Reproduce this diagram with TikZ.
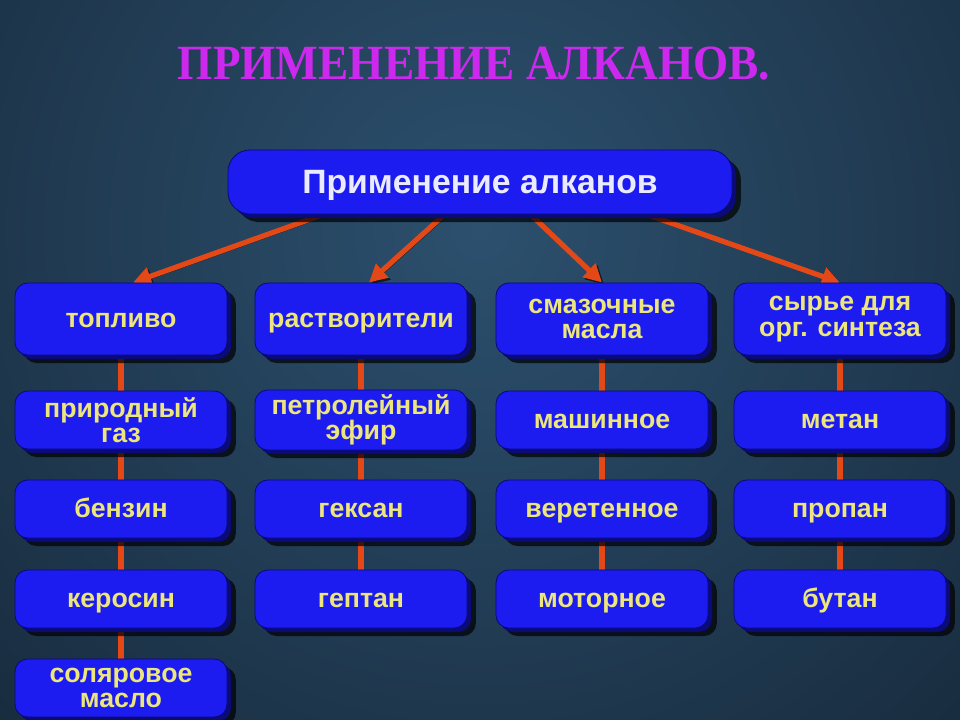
\documentclass[tikz,border=0pt]{standalone}
\usepackage{fontspec}
\setmainfont{Liberation Sans}
\newfontfamily\titlefont{Liberation Serif}
\usetikzlibrary{shadows, calc, shapes, positioning, arrows.meta}
\definecolor{AlkBlue}{RGB}{28, 28, 240}
\definecolor{AlkEdge}{RGB}{10, 10, 120}
\definecolor{AlkOrange}{RGB}{228, 72, 22}
\definecolor{AlkYellow}{RGB}{236, 230, 125}
\definecolor{AlkTitle}{RGB}{204, 40, 238}
\definecolor{BgInner}{RGB}{44, 80, 110}
\definecolor{BgOuter}{RGB}{10, 18, 28}

\pgfdeclarelayer{bg}
\pgfdeclarelayer{links}
\pgfsetlayers{bg, links, main}

\tikzset{
    alkbox/.style={rectangle, rounded corners=0.32cm, fill=AlkBlue, draw=AlkEdge,
        line width=0.6pt, minimum width=5.3cm, minimum height=1.45cm, align=center,
        text=AlkYellow, font=\bfseries\fontsize{19}{18}\selectfont,
        general shadow={fill=black, opacity=0.7, shadow xshift=0.22cm, shadow yshift=-0.2cm},
        general shadow={fill=AlkEdge, shadow xshift=0.1cm, shadow yshift=-0.1cm}},
    oneline/.style={text height=15pt, text depth=3pt},
    headbox/.style={alkbox, minimum height=1.8cm},
    rootbox/.style={alkbox, rounded corners=0.55cm, minimum width=12.6cm, minimum height=1.6cm,
        text height=18pt, text depth=1pt,
        text=white!92!blue, font=\bfseries\fontsize{24}{24}\selectfont},
    titletext/.style={font=\titlefont\bfseries\fontsize{35}{35}\selectfont},
    link/.style={draw=AlkOrange, line width=0.15cm,
        preaction={draw=black, opacity=0.6, transform canvas={xshift=0.05cm, yshift=-0.05cm}}},
    ray/.style={link, line width=0.13cm, -{Triangle[length=0.45cm, width=0.45cm]}}
}

\begin{document}
\begin{tikzpicture}[x=0.025cm, y=-0.025cm]
    % Fixed frame, same proportions as the slide
    \useasboundingbox (0,0) rectangle (960,720);

    % Dark slide background
    \begin{pgfonlayer}{bg}
        \fill[BgOuter] (0,0) rectangle (960,720);
        \begin{scope}
            \clip (0,0) rectangle (960,720);
            \shade[inner color=BgInner, outer color=BgOuter] (480,230) circle (30cm);
        \end{scope}
    \end{pgfonlayer}

    % Title
    \node[titletext, text=AlkTitle] (title) at (474,64) {\scalebox{0.92}[1]{ПРИМЕНЕНИЕ АЛКАНОВ.}};

    % Root box
    \node[rootbox] (top) at (480,182) {Применение алканов};

    % Column headers
    \node[headbox, oneline] (h1) at (121,319) {топливо};
    \node[headbox, oneline] (h2) at (361,319) {растворители};
    \node[headbox] (h3) at (602,319) {смазочные\\масла};
    \node[headbox] (h4) at (840,319) {сырье для\\орг. синтеза};

    % Fuels
    \node[alkbox] (a1) at (121,420) {природный\\газ};
    \node[alkbox, oneline] (a2) at (121,509) {бензин};
    \node[alkbox, oneline] (a3) at (121,599) {керосин};
    \node[alkbox] (a4) at (121,688) {соляровое\\масло};

    % Solvents
    \node[alkbox] (b1) at (361,420) {петролейный\\эфир};
    \node[alkbox, oneline] (b2) at (361,509) {гексан};
    \node[alkbox, oneline] (b3) at (361,599) {гептан};

    % Lubricating oils
    \node[alkbox, oneline] (c1) at (602,420) {машинное};
    \node[alkbox, oneline] (c2) at (602,509) {веретенное};
    \node[alkbox, oneline] (c3) at (602,599) {моторное};

    % Raw materials
    \node[alkbox, oneline] (d1) at (840,420) {метан};
    \node[alkbox, oneline] (d2) at (840,509) {пропан};
    \node[alkbox, oneline] (d3) at (840,599) {бутан};

    % Connectors, kept under the boxes
    \begin{pgfonlayer}{links}
        \draw[ray] ($(top.south west)!0.19!(top.south east)$) -- ([xshift=0.3cm]h1.north);
        \draw[ray] ($(top.south west)!0.43!(top.south east)$) -- ([xshift=0.2cm]h2.north);
        \draw[ray] ($(top.south west)!0.60!(top.south east)$) -- (h3.north);
        \draw[ray] ($(top.south west)!0.83!(top.south east)$) -- (h4.north);
        \foreach \u/\v in {h1/a1, a1/a2, a2/a3, a3/a4, h2/b1, b1/b2, b2/b3,
                           h3/c1, c1/c2, c2/c3, h4/d1, d1/d2, d2/d3} {
            \draw[link] (\u) -- (\v);
        }
    \end{pgfonlayer}
\end{tikzpicture}
\end{document}
